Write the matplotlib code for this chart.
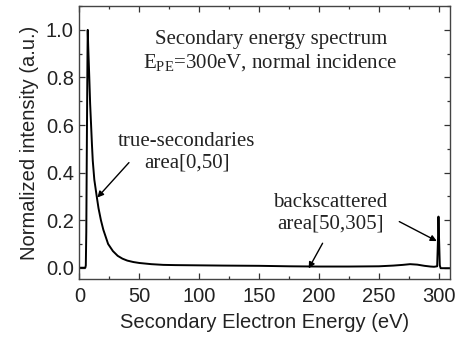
import matplotlib
matplotlib.use("Agg")
import matplotlib.pyplot as plt
from matplotlib.ticker import MultipleLocator

# Spectrum data
energy = [0, 5.0, 5.4, 5.8, 6.3, 6.8, 7.0, 7.4, 8.3, 9.0, 9.8, 10.5, 11.2, 12.5,
          14.5, 16, 18, 20, 24, 28, 32, 36, 40, 45, 50, 60, 70, 80, 100, 120,
          150, 175, 200, 225, 250, 262, 270, 276, 282, 288, 293, 296, 298.6,
          299.3, 299.7, 300.2, 300.8, 301.5, 305, 309]
intensity = [0, 0, 0.01, 0.15, 0.55, 0.9, 1.0, 0.93, 0.8, 0.69, 0.6, 0.52, 0.45,
             0.37, 0.3, 0.25, 0.2, 0.16, 0.1, 0.07, 0.05, 0.038, 0.03, 0.024,
             0.02, 0.015, 0.012, 0.011, 0.01, 0.009, 0.008, 0.006, 0.005, 0.005,
             0.006, 0.009, 0.012, 0.015, 0.013, 0.008, 0.005, 0.004, 0.006,
             0.12, 0.215, 0.12, 0.01, -0.002, -0.002, -0.002]

xticks = [0, 50, 100, 150, 200, 250, 300]
yticks = [0.0, 0.2, 0.4, 0.6, 0.8, 1.0]

title_lines = ["Secondary energy spectrum", r"E$_{\mathrm{PE}}$=300eV, normal incidence"]
label_ts = "true-secondaries\narea[0,50]"
label_bs = "backscattered\narea[50,305]"

plt.rcParams['mathtext.fontset'] = 'custom'
plt.rcParams['mathtext.rm'] = 'Liberation Serif'
plt.rcParams['mathtext.it'] = 'Liberation Serif:italic'
plt.rcParams['font.family'] = ['Liberation Sans', 'DejaVu Sans']

fig = plt.figure(figsize=(4.56, 3.40), dpi=100)
ax = fig.add_axes([0.174, 0.179, 0.812, 0.803])

ax.plot(energy, intensity, color='black', lw=1.4)

ax.set_xlim(0, 309)
ax.set_ylim(-0.048, 1.1)
ax.set_xticks(xticks)
ax.set_yticks(yticks)
ax.set_yticklabels([f"{v:.1f}" for v in yticks])
ax.xaxis.set_minor_locator(MultipleLocator(25))
ax.yaxis.set_minor_locator(MultipleLocator(0.1))
ax.tick_params(which='both', direction='in', top=True, right=True,
               labelsize=14.5, colors='#333333', labelcolor='#222222', width=0.9)
ax.tick_params(which='major', length=4.5, pad=4)
ax.tick_params(axis='x', which='major', pad=6)
ax.tick_params(which='minor', length=2.5)
for s in ax.spines.values():
    s.set_color('#444444')
    s.set_linewidth(1.0)

ax.set_xlabel("Secondary Electron Energy (eV)", fontsize=14.5, color='#222222', labelpad=5)
ax.set_ylabel("Normalized intensity (a.u.)", fontsize=14.5, color='#222222', labelpad=5)

serif = ['Liberation Serif', 'DejaVu Serif']
ax.text(159.7, 0.959, title_lines[0], ha='center', va='center', fontsize=15,
        family=serif, color='#222222')
ax.text(159.5, 0.862, title_lines[1], ha='center', va='center', fontsize=15,
        family=serif, color='#222222')

arrow = dict(arrowstyle='-|>', color='black', lw=1.0, mutation_scale=9,
             shrinkA=0, shrinkB=0)
ax.text(89.5, 0.485, label_ts, ha='center', va='center', fontsize=15,
        family=serif, color='#222222', linespacing=1.2)
ax.annotate("", xy=(15, 0.295), xytext=(41.4, 0.442), arrowprops=arrow)

ax.text(209.7, 0.229, label_bs, ha='center', va='center', fontsize=15,
        family=serif, color='#222222', linespacing=1.2)
ax.annotate("", xy=(191.4, -0.003), xytext=(203, 0.103), arrowprops=arrow)
ax.annotate("", xy=(298.3, 0.112), xytext=(267, 0.194), arrowprops=arrow)

fig.savefig("out.png", dpi=100)
